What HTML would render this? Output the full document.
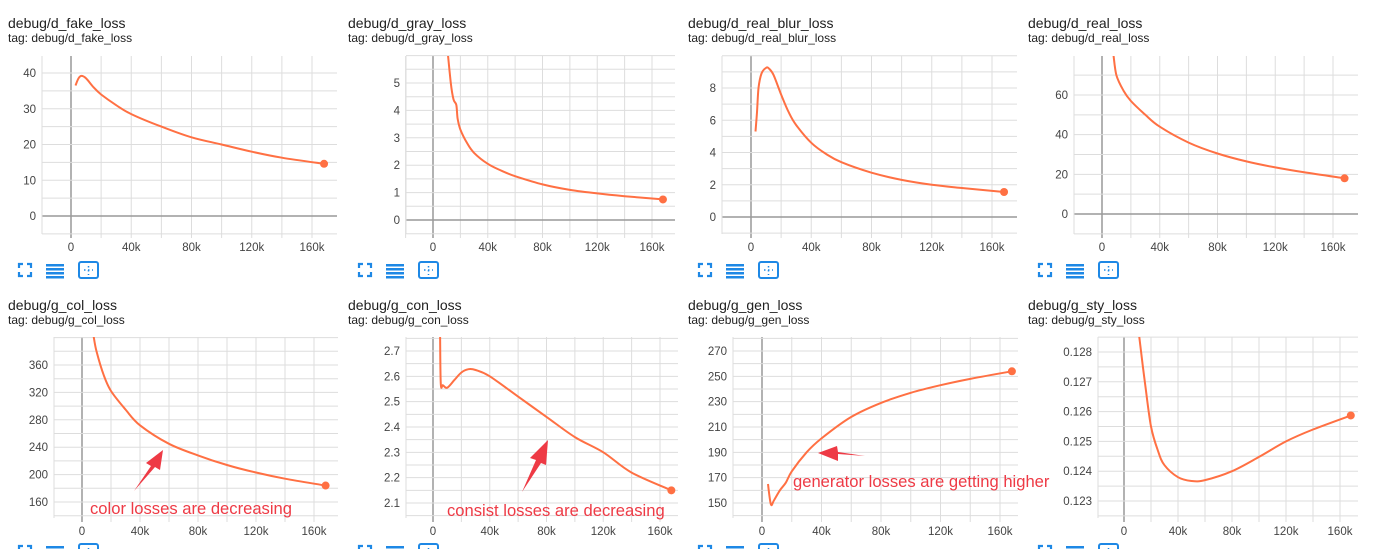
<!DOCTYPE html>
<html><head><meta charset="utf-8">
<style>
html,body{margin:0;padding:0;background:#fff;width:1378px;height:549px;overflow:hidden}
svg{display:block;font-family:"Liberation Sans",sans-serif}
</style></head>
<body>
<svg id="s" width="1378" height="549"></svg>
<script>
// ---- data ----
const titles=["debug/d_fake_loss","debug/d_gray_loss","debug/d_real_blur_loss","debug/d_real_loss","debug/g_col_loss","debug/g_con_loss","debug/g_gen_loss","debug/g_sty_loss"];
const steps1=[3,5,7,10,15,20,30,40,60,80,100,120,140,168];
const vals1=[36.5,38.5,39.2,38.5,36,34,31,28.5,25,22,20,18,16.3,14.6];
const steps2=[10,13,15,17,18,20,25,30,40,50,60,80,100,120,140,168];
const vals2=[6.5,5,4.4,4.2,3.7,3.3,2.8,2.45,2.05,1.8,1.6,1.3,1.1,0.97,0.87,0.75];
const steps3=[3,4,5,7,10,12,15,20,25,30,40,50,60,80,100,120,140,168];
const vals3=[5.3,6.5,8,8.9,9.25,9.2,8.8,7.6,6.5,5.7,4.6,3.9,3.4,2.75,2.3,2.0,1.8,1.55];
const steps4=[8,10,15,20,30,40,60,80,100,120,140,168];
const vals4=[80,70,62,57,50,44,36,30.5,26.5,23.5,21,18];
const steps5=[8,10,15,20,30,40,60,80,100,120,140,168];
const vals5=[402,380,345,322,295,272,245,228,214,203,194,184];
const steps6=[5,5.5,7,10,15,20,25,30,40,60,80,100,120,140,168];
const vals6=[2.76,2.57,2.565,2.555,2.585,2.615,2.628,2.625,2.6,2.52,2.44,2.36,2.3,2.22,2.15];
const steps7=[4,6,8,12,16,20,30,40,60,80,100,120,140,168];
const vals7=[165,149,152,160,166,175,190,201,218,229,237,243,248,254];
const steps8=[10,14,16,20,25,30,40,50,60,80,100,120,140,168];
const vals8=[0.1290,0.1275,0.1268,0.1255,0.1247,0.1242,0.1238,0.12367,0.1237,0.1240,0.12448,0.1250,0.1254,0.12587];
const yTicks1=[0,10,20,30,40];
const yTicks2=[0,1,2,3,4,5];
const yTicks3=[0,2,4,6,8];
const yTicks4=[0,20,40,60];
const yTicks5=[160,200,240,280,320,360];
const yTicks6=[2.1,2.2,2.3,2.4,2.5,2.6,2.7];
const yTicks7=[150,170,190,210,230,250,270];
const yTicks8=[0.123,0.124,0.125,0.126,0.127,0.128];
const xTicks=[0,40,80,120,160];
const xTickLabels=["0","40k","80k","120k","160k"];

// layout (geometry only)
const P=[
 {ox:0,oy:0,L:42,R:337,T:56,B:234,x0:71,x1:312,ya:[0,216],yb:[40,73],st:steps1,v:vals1,yt:yTicks1,dec:0},
 {ox:340,oy:0,L:406,R:675,T:56,B:234,x0:433,x1:652,ya:[0,220],yb:[5,83],st:steps2,v:vals2,yt:yTicks2,dec:0},
 {ox:680,oy:0,L:722,R:1017,T:56,B:234,x0:751,x1:992,ya:[0,217],yb:[8,88],st:steps3,v:vals3,yt:yTicks3,dec:0},
 {ox:1020,oy:0,L:1074,R:1358,T:56,B:234,x0:1102,x1:1333,ya:[0,214],yb:[60,95],st:steps4,v:vals4,yt:yTicks4,dec:0},
 {ox:0,oy:282,L:54,R:338,T:337,B:518,x0:82,x1:314,ya:[160,502],yb:[360,365],st:steps5,v:vals5,yt:yTicks5,dec:0},
 {ox:340,oy:282,L:406,R:678,T:337,B:518,x0:433,x1:660,ya:[2.1,503],yb:[2.7,351],st:steps6,v:vals6,yt:yTicks6,dec:1},
 {ox:680,oy:282,L:733,R:1018,T:337,B:518,x0:762,x1:1000,ya:[150,503],yb:[270,351],st:steps7,v:vals7,yt:yTicks7,dec:0},
 {ox:1020,oy:282,L:1098,R:1358,T:337,B:518,x0:1124,x1:1340,ya:[0.123,501],yb:[0.128,352],st:steps8,v:vals8,yt:yTicks8,dec:3}
];
const NS="http://www.w3.org/2000/svg";
const svg=document.getElementById('s');
function mk(tag,at,parent){const e=document.createElementNS(NS,tag);for(const k in at)e.setAttribute(k,at[k]);(parent||svg).appendChild(e);return e;}
function smooth(pts){let d='M'+pts[0][0].toFixed(1)+','+pts[0][1].toFixed(1);
  for(let i=0;i<pts.length-1;i++){const p0=pts[i-1]||pts[i],p1=pts[i],p2=pts[i+1],p3=pts[i+2]||p2;
    const c1=[p1[0]+(p2[0]-p0[0])/6,p1[1]+(p2[1]-p0[1])/6],c2=[p2[0]-(p3[0]-p1[0])/6,p2[1]-(p3[1]-p1[1])/6];
    d+='C'+c1.map(v=>v.toFixed(1))+' '+c2.map(v=>v.toFixed(1))+' '+p2.map(v=>v.toFixed(1));}
  return d;}
const defs=mk('defs',{});
P.forEach((p,i)=>{
  const g=mk('g',{});
  
  
  const xs=k=>p.x0+(k-0)*(p.x1-p.x0)/160;
  const ys=v=>p.ya[1]+(v-p.ya[0])*(p.yb[1]-p.ya[1])/(p.yb[0]-p.ya[0]);
  const t=mk('text',{x:p.ox+8,y:p.oy+28,'font-size':14,fill:'#212121'},g);t.textContent=titles[i];
  
  
  const t2=mk('text',{x:p.ox+8,y:p.oy+42,'font-size':12,fill:'#212121'},g);t2.textContent='tag: '+titles[i];
  
  
  for(let k=-20;k<=180;k+=20){const x=xs(k);if(x<p.L-0.5||x>p.R+0.5)continue;mk('line',{x1:x,x2:x,y1:p.T,y2:p.B+4,stroke:k===0?'#999':'#ddd','stroke-width':k===0?1.5:1},g);}
  const step=p.yt[1]-p.yt[0];
  for(let j=-4;j<=p.yt.length*2+8;j++){const v=p.yt[0]+j*step/2;const y=ys(v);if(y<p.T-0.5||y>p.B+0.5)continue;
    mk('line',{x1:p.L,x2:p.R,y1:y,y2:y,stroke:Math.abs(v)<1e-9?'#999':'#ddd','stroke-width':Math.abs(v)<1e-9?1.5:1},g);}
  mk('line',{x1:p.L,x2:p.L,y1:p.T,y2:p.B,stroke:'#ddd'},g);
  p.yt.forEach(v=>{const e=mk('text',{x:p.L-6,y:ys(v)+4,'font-size':11.5,fill:'#444','text-anchor':'end'},g);e.textContent=v.toFixed(p.dec);
    
    });
  xTicks.forEach((k,j)=>{const e=mk('text',{x:xs(k),y:p.B+17,'font-size':11.5,fill:'#444','text-anchor':'middle'},g);e.textContent=xTickLabels[j];
    
    });
  const cp=mk('clipPath',{id:'c'+i},defs);mk('rect',{x:p.L,y:p.T,width:p.R-p.L,height:p.B-p.T},cp);
  const pts=p.st.map((k,j)=>[xs(k),ys(p.v[j])]);
  const pl=mk('path',{d:smooth(pts),fill:'none',stroke:'#ff7043','stroke-width':2,'stroke-linejoin':'round','clip-path':'url(#c'+i+')'},g);
  
  
  const n=p.st.length-1;
  const dot=mk('circle',{cx:xs(p.st[n]),cy:ys(p.v[n]),r:4,fill:'#ff7043'},g);
  
  
  const iy=p.oy+263, ix=p.ox+19, c='#1e88e5';
  const ic=mk('g',{},g);
  
  
  mk('path',{d:`M${ix},${iy+5}v-4h4 M${ix+8},${iy+1}h4v4 M${ix},${iy+9}v4h4 M${ix+12},${iy+9}v4h-4`,stroke:c,'stroke-width':2.2,fill:'none'},ic);
  const ic2=mk('g',{},g);
  
  
  for(let r=0;r<4;r++)mk('rect',{x:ix+27,y:iy+1+r*4,width:18,height:2.5,fill:c},ic2);
  const ic3=mk('g',{},g);
  
  
  mk('rect',{x:ix+60,y:iy-1,width:19,height:16,rx:2,fill:'none',stroke:c,'stroke-width':2},ic3);
  mk('path',{d:`M${ix+65},${iy+7}h9 M${ix+69.5},${iy+3}v9`,stroke:c,'stroke-width':1.5,'stroke-dasharray':'1.5 2.5',fill:'none'},ic3);
});
const red='#ee3a45';
function ann(txt,x,y,name){const e=mk('text',{x:x,y:y,'font-size':16.6,fill:red});e.textContent=txt;
  
  }
ann('color losses are decreasing',90,514,'color-annotation');
ann('consist losses are decreasing',447,516,'consist-annotation');
ann('generator losses are getting higher',793,487,'generator-annotation');
const a1=mk('polygon',{points:'134,491 151,466 146,463 163,450 160,470 155,467',fill:red});


const a2=mk('polygon',{points:'522,492 536,460 530,458 548,440 546,465 541,463',fill:red});


const a3=mk('polygon',{points:'865,456 838,454 838,461 818,453 837,446 838,452',fill:red});


</script>
</body></html>
